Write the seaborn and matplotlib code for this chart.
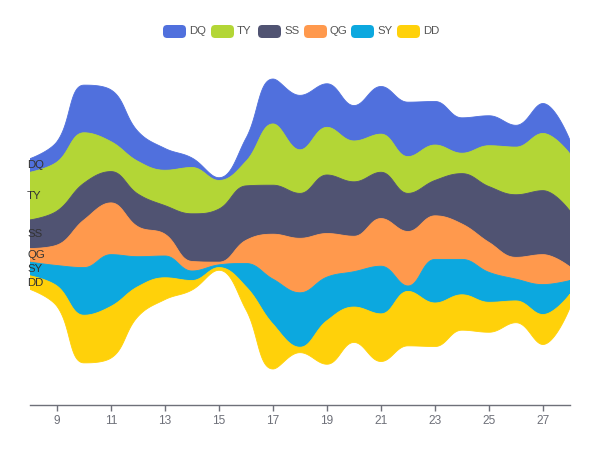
import numpy as np
import matplotlib
matplotlib.use("Agg")
import matplotlib.pyplot as plt
from matplotlib.patches import FancyBboxPatch
import seaborn as sns

# ---------------- data ----------------
days = [8, 9, 10, 11, 12, 13, 14, 15, 16, 17, 18, 19, 20, 21, 22, 23, 24, 25, 26, 27, 28]
series_names = ["DQ", "TY", "SS", "QG", "SY", "DD"]
DQ = [10, 15, 35, 38, 22, 16, 7, 2, 17, 33, 40, 32, 26, 35, 40, 32, 26, 22, 16, 22, 10]
TY = [35, 36, 37, 22, 24, 26, 34, 21, 18, 45, 32, 35, 30, 28, 27, 26, 15, 30, 35, 42, 42]
SS = [21, 25, 27, 23, 24, 21, 35, 39, 40, 36, 33, 43, 40, 34, 28, 26, 37, 41, 46, 47, 41]
QG = [10, 15, 35, 38, 22, 16, 7, 2, 17, 33, 40, 32, 26, 35, 40, 32, 26, 22, 16, 22, 10]
SY = [10, 15, 35, 38, 22, 16, 7, 2, 17, 33, 40, 32, 26, 35, 4, 32, 26, 22, 16, 22, 10]
DD = [10, 15, 35, 38, 22, 16, 7, 2, 17, 33, 4, 32, 26, 35, 40, 32, 26, 22, 16, 22, 10]
tick_days = [9, 11, 13, 15, 17, 19, 21, 23, 25, 27]
colors = ["#5070DD", "#B3D636", "#505372", "#FF994D", "#0CA8DF", "#FFD10A"]

sns.set_theme(style="white")
plt.rcParams["font.family"] = ["Liberation Sans", "DejaVu Sans"]

W, H = 600, 450
fig = plt.figure(figsize=(W / 100, H / 100), dpi=100)

# pixel layout of the single axis
ax_left, ax_right = 30, 570
ax_top, ax_bottom = 43, 405
river_top, river_bottom = 79, 369

layers = np.array([DQ, TY, SS, QG, SY, DD], dtype=float)
x = np.array(days, dtype=float)
sums = layers.sum(axis=0)
vmax = sums.max()
y0 = (vmax - sums) / 2.0
bounds = [y0]
for k in range(len(layers)):
    bounds.append(bounds[-1] + layers[k])

ky = (river_bottom - river_top) / vmax
kx = (ax_right - ax_left) / (x[-1] - x[0])

ax = fig.add_axes([ax_left / W, 1 - ax_bottom / H, (ax_right - ax_left) / W,
                   (ax_bottom - ax_top) / H])
ax.set_xlim(x[0], x[-1])
ylim_top = -(river_top - ax_top) / ky
ylim_bot = vmax + (ax_bottom - river_bottom) / ky
ax.set_ylim(ylim_bot, ylim_top)


def smooth_curve(xd, yd, smooth=0.4, nseg=40):
    """ECharts-like bezier smoothing, computed in pixel space."""
    px = (xd - xd[0]) * kx
    py = yd * ky
    n = len(px)
    outx, outy = [px[0]], [py[0]]
    c0x, c0y = px[0], py[0]
    t = np.linspace(0, 1, nseg)[1:]
    for i in range(1, n):
        X, Y = px[i], py[i]
        PX, PY = px[i - 1], py[i - 1]
        if i == n - 1:
            c1x, c1y = X, Y
            ncx, ncy = X, Y
        else:
            NX, NY = px[i + 1], py[i + 1]
            vx, vy = NX - PX, NY - PY
            lp = np.hypot(X - PX, Y - PY)
            ln = np.hypot(NX - X, NY - Y)
            r = ln / (ln + lp)
            ncx = X + vx * smooth * r
            ncy = Y + vy * smooth * r
            ncx = min(ncx, max(NX, X)); ncy = min(ncy, max(NY, Y))
            ncx = max(ncx, min(NX, X)); ncy = max(ncy, min(NY, Y))
            vx, vy = ncx - X, ncy - Y
            c1x = X - vx * lp / ln
            c1y = Y - vy * lp / ln
            c1x = min(c1x, max(PX, X)); c1y = min(c1y, max(PY, Y))
            c1x = max(c1x, min(PX, X)); c1y = max(c1y, min(PY, Y))
            vx, vy = X - c1x, Y - c1y
            ncx = X + vx * ln / lp
            ncy = Y + vy * ln / lp
        bx = ((1 - t) ** 3) * PX + 3 * ((1 - t) ** 2) * t * c0x + 3 * (1 - t) * t ** 2 * c1x + t ** 3 * X
        by = ((1 - t) ** 3) * PY + 3 * ((1 - t) ** 2) * t * c0y + 3 * (1 - t) * t ** 2 * c1y + t ** 3 * Y
        outx.extend(bx); outy.extend(by)
        c0x, c0y = ncx, ncy
    outx = np.array(outx) / kx + xd[0]
    outy = np.array(outy) / ky
    return outx, outy


curves = [smooth_curve(x, b) for b in bounds]
for k in range(len(layers)):
    tx, ty = curves[k]
    bx, by = curves[k + 1]
    px = np.concatenate([tx, bx[::-1]])
    py = np.concatenate([ty, by[::-1]])
    ax.fill(px, py, color=colors[k], lw=0.6, edgecolor=colors[k], zorder=2)

# layer labels at the left edge
for k, name in enumerate(series_names):
    ymid = (bounds[k][0] + bounds[k + 1][0]) / 2
    ax.text(x[0] - 3 / kx, ymid, name, ha="left", va="center",
            fontsize=8.2, color="#333333", zorder=5, clip_on=False)

# axis styling
for s in ["top", "right", "left"]:
    ax.spines[s].set_visible(False)
ax.spines["bottom"].set_color("#6E7079")
ax.spines["bottom"].set_linewidth(1)
ax.set_xticks(tick_days)
ax.set_xticklabels([str(d) for d in tick_days])
ax.tick_params(axis="x", bottom=True, length=4, width=1, color="#6E7079",
               labelcolor="#6E7079", labelsize=8.6, pad=3)
ax.set_yticks([])
ax.grid(False)
ax.set_facecolor("none")

# legend
icon_x = [163, 211, 258, 304, 351, 397]
for name, c, ix in zip(series_names, colors, icon_x):
    iw, ih = 23, 13
    cy = 31.5
    patch = FancyBboxPatch((ix / W, 1 - (cy + ih / 2) / H), iw / W, ih / H,
                           boxstyle="round,pad=0,rounding_size=0.007",
                           transform=fig.transFigure, facecolor=c, edgecolor="none",
                           mutation_aspect=W / H)
    fig.add_artist(patch)
    fig.text((ix + iw + 3) / W, 1 - cy / H, name, ha="left", va="center",
             fontsize=8.2, color="#555555")

fig.savefig("out.png", dpi=100)
